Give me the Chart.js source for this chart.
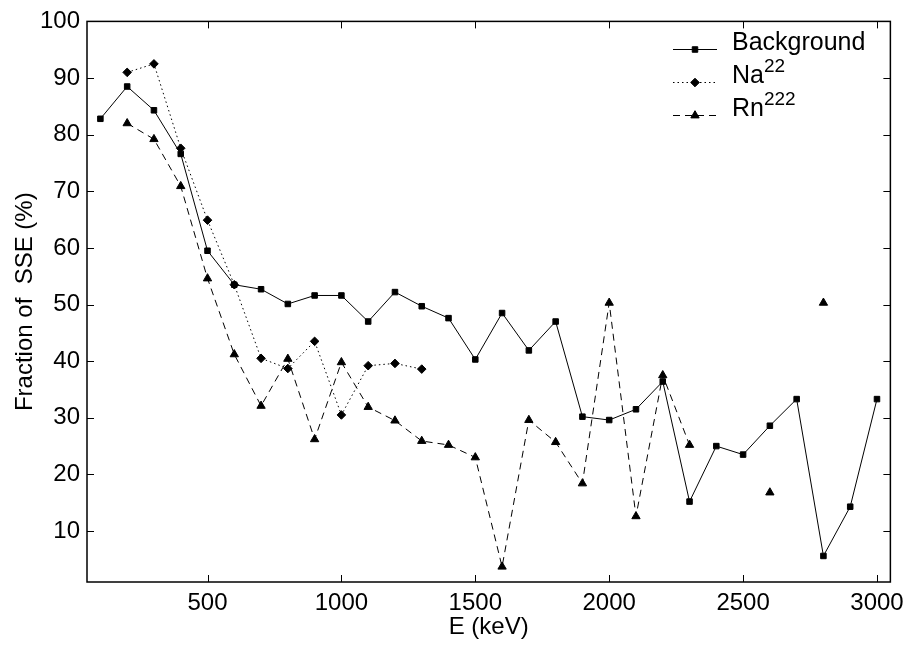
<!DOCTYPE html>
<html>
<head>
<meta charset="utf-8">
<script src="https://cdn.jsdelivr.net/npm/chart.js@4.4.1/dist/chart.umd.min.js"></script>
<style>
  body { margin: 0; background: #fff; }
  canvas { display: block; }
</style>
</head>
<body>
<canvas id="sseChart" width="911" height="645"></canvas>
<script>
// Energies (keV) and fraction of SSE (%)
const energies = [100, 200, 300, 400, 500, 600, 700, 800, 900, 1000,
  1100, 1200, 1300, 1400, 1500, 1600, 1700, 1800, 1900, 2000,
  2100, 2200, 2300, 2400, 2500, 2600, 2700, 2800, 2900, 3000];
const background = [82.8, 88.5, 84.3, 76.6, 59.5, 53.5, 52.7, 50.1, 51.6, 51.6,
  47.0, 52.2, 49.7, 47.6, 40.3, 48.5, 41.9, 47.0, 30.2, 29.6,
  31.5, 36.4, 15.2, 25.0, 23.5, 28.6, 33.3, 5.6, 14.3, 33.3];
const na22 = [null, 91.0, 92.5, 77.6, 64.9, 53.5, 40.5, 38.7, 43.5, 30.5,
  39.2, 39.6, 38.6, null, null, null, null, null, null, null,
  null, null, null, null, null, null, null, null, null, null];
const rn222 = [null, 82.0, 79.2, 70.9, 54.6, 41.2, 32.1, 40.4, 26.2, 39.8,
  31.9, 29.5, 25.9, 25.2, 23.0, 3.7, 29.6, 25.7, 18.4, 50.3,
  12.6, 37.5, 25.2, null, null, 16.8, null, 50.3, null, null];

const xTicks = [500, 1000, 1500, 2000, 2500, 3000];
const yTicks = [10, 20, 30, 40, 50, 60, 70, 80, 90, 100];
const legendNames = ["Background", "Na", "Rn"];
const legendSups = ["", "22", "222"];

const FONT = "'Liberation Sans', Arial, Helvetica, sans-serif";

function toPoints(values) {
  return energies.map((e, i) => ({ x: e, y: values[i] }));
}

// small marker painter for the legend
function drawMarker(ctx, style, r, x, y) {
  ctx.beginPath();
  if (style === "rect") {
    const s = r * Math.SQRT1_2;
    ctx.rect(x - s, y - s, 2 * s, 2 * s);
  } else if (style === "rectRot") {
    ctx.moveTo(x, y - r);
    ctx.lineTo(x + r, y);
    ctx.lineTo(x, y + r);
    ctx.lineTo(x - r, y);
    ctx.closePath();
  } else {
    for (let k = 0; k < 3; k++) {
      const a = k * 2 * Math.PI / 3;
      const px = x + Math.sin(a) * r, py = y - Math.cos(a) * r;
      k ? ctx.lineTo(px, py) : ctx.moveTo(px, py);
    }
    ctx.closePath();
  }
  ctx.fill();
  ctx.stroke();
}

// box around the axes with inward ticks on all four sides
const boxPlugin = {
  id: "boxTicks",
  afterDraw(chart) {
    const { ctx, chartArea: a, scales } = chart;
    const len = 7;
    ctx.save();
    ctx.strokeStyle = "#000";
    ctx.lineWidth = 1;
    ctx.beginPath();
    xTicks.forEach((v) => {
      const px = Math.round(scales.x.getPixelForValue(v)) + 0.5;
      ctx.moveTo(px, a.bottom); ctx.lineTo(px, a.bottom - len);
      ctx.moveTo(px, a.top); ctx.lineTo(px, a.top + len);
    });
    yTicks.forEach((v) => {
      const py = Math.round(scales.y.getPixelForValue(v)) + 0.5;
      ctx.moveTo(a.left, py); ctx.lineTo(a.left + len, py);
      ctx.moveTo(a.right, py); ctx.lineTo(a.right - len, py);
    });
    ctx.stroke();
    ctx.lineWidth = 1.5;
    ctx.strokeRect(a.left, a.top, a.right - a.left, a.bottom - a.top);
    ctx.restore();
  },
};

// legend with superscripts, drawn inside the top right corner
const legendPlugin = {
  id: "sseLegend",
  afterDraw(chart) {
    const ctx = chart.ctx;
    chart.data.datasets.forEach((ds, i) => {
      const y = 49 + i * 33;
      ctx.save();
      ctx.strokeStyle = "#000";
      ctx.fillStyle = "#000";
      ctx.lineWidth = 1;
      ctx.setLineDash(ds.borderDash || []);
      ctx.beginPath();
      ctx.moveTo(673, y + 0.5);
      ctx.lineTo(717, y + 0.5);
      ctx.stroke();
      ctx.setLineDash([]);
      drawMarker(ctx, ds.pointStyle, ds.pointRadius, 695, y + 0.5);
      ctx.textBaseline = "alphabetic";
      ctx.font = "25px " + FONT;
      ctx.fillText(legendNames[i], 732, y + 1);
      if (legendSups[i]) {
        const w = ctx.measureText(legendNames[i]).width;
        ctx.font = "19px " + FONT;
        ctx.fillText(legendSups[i], 732 + w, y - 10);
      }
      ctx.restore();
    });
  },
};

const tickFont = { family: FONT, size: 24 };

new Chart(document.getElementById("sseChart"), {
  type: "line",
  data: {
    datasets: [
      {
        label: "Background",
        data: toPoints(background),
        borderColor: "#000",
        backgroundColor: "#000",
        borderWidth: 1,
        pointStyle: "rect",
        pointRadius: 3.9,
        pointBorderWidth: 1,
      },
      {
        label: "Na22",
        data: toPoints(na22),
        borderColor: "#000",
        backgroundColor: "#000",
        borderWidth: 1,
        borderDash: [1.5, 3],
        pointStyle: "rectRot",
        pointRadius: 4.3,
        pointBorderWidth: 1,
      },
      {
        label: "Rn222",
        data: toPoints(rn222),
        borderColor: "#000",
        backgroundColor: "#000",
        borderWidth: 1,
        borderDash: [7, 5],
        pointStyle: "triangle",
        pointRadius: 4.8,
        pointBorderWidth: 1,
      },
    ],
  },
  options: {
    responsive: false,
    animation: false,
    devicePixelRatio: 1,
    spanGaps: false,
    layout: { padding: { top: 20, right: 19, left: 0, bottom: 0 } },
    plugins: { legend: { display: false }, tooltip: { enabled: false } },
    scales: {
      x: {
        type: "linear",
        min: 50,
        max: 3050,
        afterBuildTicks: (s) => { s.ticks = xTicks.map((v) => ({ value: v })); },
        afterFit: (s) => { s.height = 63; },
        grid: { display: false, drawTicks: false },
        border: { display: false },
        ticks: { color: "#000", font: tickFont, padding: 7, maxRotation: 0, callback: (v) => String(v) },
        title: {
          display: true,
          text: "E (keV)",
          color: "#000",
          font: tickFont,
          padding: { top: 0, bottom: 3 },
        },
      },
      y: {
        min: 1,
        max: 100,
        afterBuildTicks: (s) => { s.ticks = yTicks.map((v) => ({ value: v })); },
        afterFit: (s) => { s.width = 87; },
        grid: { display: false, drawTicks: false },
        border: { display: false },
        ticks: { color: "#000", font: tickFont, padding: 7, callback: (v) => String(v) },
        title: {
          display: true,
          text: "Fraction of  SSE (%)",
          color: "#000",
          font: tickFont,
          padding: { top: 11, bottom: 0 },
        },
      },
    },
  },
  plugins: [boxPlugin, legendPlugin],
});
</script>
</body>
</html>
